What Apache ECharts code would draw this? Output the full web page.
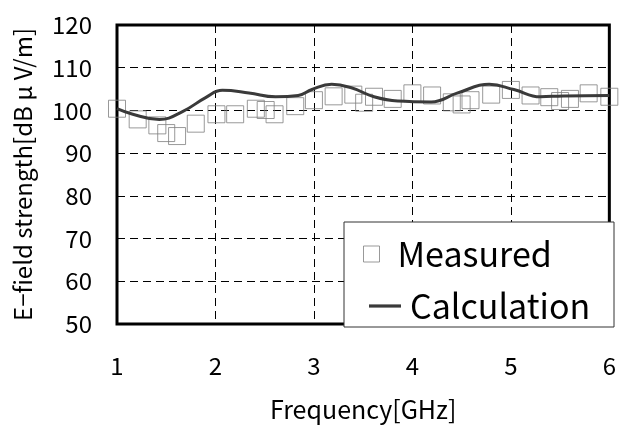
<!DOCTYPE html>
<html><head><meta charset="utf-8">
<script src="https://cdn.jsdelivr.net/npm/echarts@6/dist/echarts.min.js"></script>
<style>html,body{margin:0;padding:0;background:#fff}#c{width:619px;height:430px}</style>
</head><body><div id="c"></div>
<script>
const measuredFreq = [1.0,1.21,1.41,1.5,1.61,1.8,2.01,2.2,2.41,2.51,2.6,2.81,3.0,3.2,3.4,3.51,3.61,3.8,4.0,4.2,4.4,4.5,4.59,4.8,5.0,5.2,5.39,5.5,5.6,5.79,6.0];
const measuredDb = [100.4,97.9,96.5,94.7,94.0,96.9,99.1,99.1,100.4,100.1,99.1,101.0,102.4,103.3,103.7,101.8,103.2,102.7,104.0,103.5,101.9,101.4,102.4,103.7,104.8,103.5,103.1,102.2,102.7,104.0,103.2];
const calcFreq = [1.0,1.16,1.43,1.67,1.9,2.07,2.34,2.61,2.84,2.98,3.18,3.38,3.61,3.85,4.19,4.46,4.78,5.03,5.3,5.53,6.0];
const calcDb = [100.4,99.1,97.9,99.8,103.0,104.7,104.1,103.2,103.5,104.9,106.1,105.3,103.2,102.2,102.0,104.1,106.1,104.9,103.2,103.4,103.5];
const xTicks = [1,2,3,4,5,6];
const yTicks = [50,60,70,80,90,100,110,120];

const FONT = '"Noto Sans CJK JP", "Noto Sans", sans-serif';
const chart = echarts.init(document.getElementById('c'), null, {renderer:'canvas'});
chart.setOption({
  animation:false,
  backgroundColor:'#fff',
  grid:{left:117,right:6,top:25,bottom:106,show:true,borderColor:'#000',borderWidth:3,backgroundColor:'transparent'},
  xAxis:{type:'value',min:xTicks[0],max:xTicks[xTicks.length-1],interval:1,
    axisLine:{show:false},axisTick:{show:false},
    axisLabel:{color:'#000',fontSize:24,fontFamily:FONT,margin:30},
    splitLine:{show:true,lineStyle:{color:'#000',width:1,type:[8,5]}},
    name:'Frequency[GHz]',nameLocation:'middle',nameGap:73,
    nameTextStyle:{color:'#000',fontSize:25,fontFamily:FONT}},
  yAxis:{type:'value',min:yTicks[0],max:yTicks[yTicks.length-1],interval:10,
    axisLine:{show:false},axisTick:{show:false},
    axisLabel:{color:'#000',fontSize:24,fontFamily:FONT,margin:25},
    splitLine:{show:true,lineStyle:{color:'#000',width:1,type:[8,5]}},
    name:'E−field strength[dB μ V/m]',nameLocation:'middle',nameGap:82,
    nameTextStyle:{color:'#000',fontSize:24,fontFamily:FONT}},
  graphic:[{type:'rect',z:100,shape:{x:344,y:222,width:270,height:105},
    style:{fill:'#fff',stroke:'#333',lineWidth:1}}],
  legend:[
    {z:200,data:['Measured'],left:363,top:237,padding:0,itemWidth:42,itemHeight:16,
     icon:'path://M0,0H10V10H0Z',
     textStyle:{color:'#000',fontSize:34,fontFamily:FONT,lineHeight:34},
     itemStyle:{color:'rgba(0,0,0,0)',borderColor:'#808080',borderWidth:1}},
    {z:200,data:['Calculation'],left:369,top:289,padding:0,itemWidth:32,itemHeight:16,
     icon:'path://M0,0H100V10H0Z',
     textStyle:{color:'#000',fontSize:34,fontFamily:FONT,lineHeight:34,padding:[0,0,0,4]},
     itemStyle:{color:'#3a3a3a',borderWidth:0}}
  ],
  series:[
    {name:'Measured',type:'scatter',symbol:'rect',symbolSize:17,
     data:measuredFreq.map((f,i)=>[f,measuredDb[i]]),
     itemStyle:{color:'rgba(0,0,0,0)',borderColor:'#808080',borderWidth:1},z:2},
    {name:'Calculation',type:'line',smooth:0.45,symbol:'none',
     data:calcFreq.map((f,i)=>[f,calcDb[i]]),
     lineStyle:{color:'#3a3a3a',width:3},itemStyle:{color:'#3a3a3a'},z:3}
  ]
});
</script></body></html>
